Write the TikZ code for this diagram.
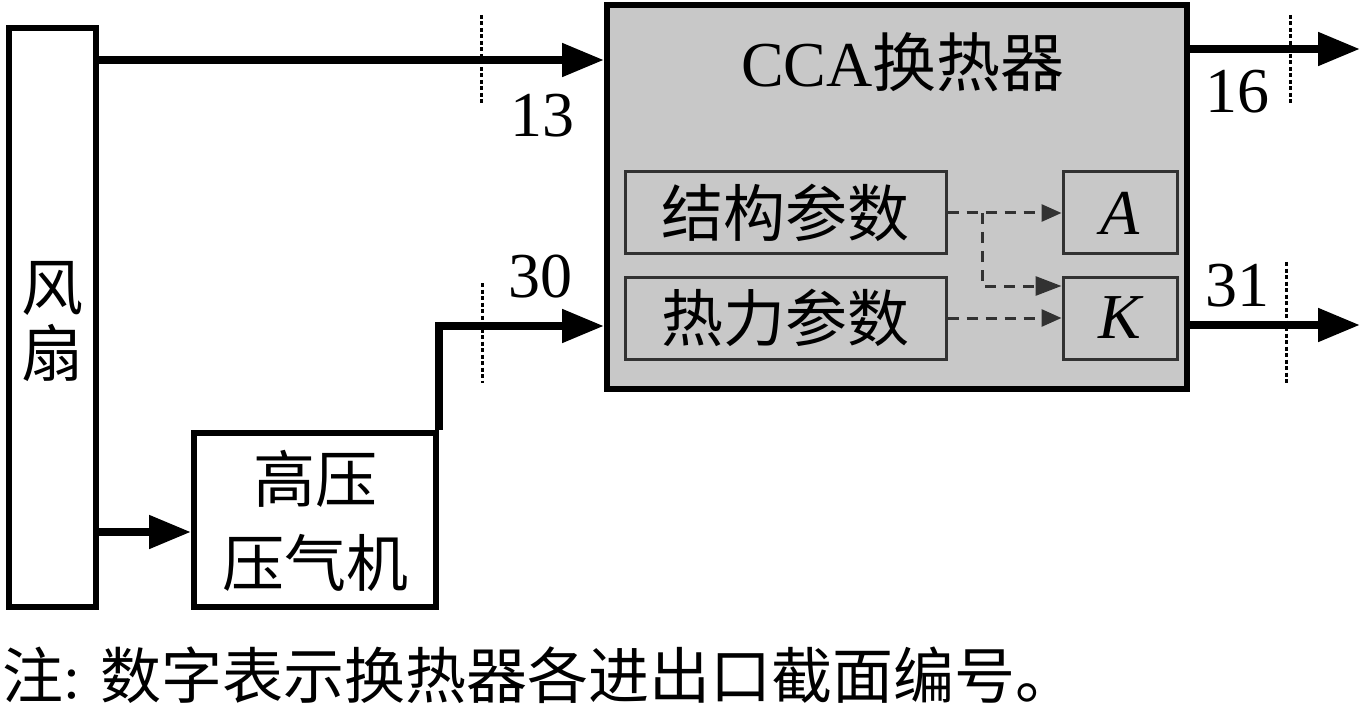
\documentclass[tikz,border=0pt]{standalone}
\usepackage{fontspec}
\setmainfont{Liberation Serif}
\newfontfamily\cjk{Noto Sans CJK SC}
\usetikzlibrary{arrows.meta}
\definecolor{ccagray}{RGB}{200,200,200}
\definecolor{inner}{RGB}{50,50,50}
\begin{document}
\begin{tikzpicture}[x=1pt,y=-1pt,
  blk/.style={draw=black, line width=6pt, fill=white, inner sep=0pt, anchor=center},
  subbox/.style={draw=inner, line width=3pt, fill=ccagray, inner sep=0pt, minimum height=82pt},
  flow/.style={line width=8pt, -{Triangle[length=42pt,width=32pt]}},
  dsh/.style={draw=inner, line width=3pt, dash pattern=on 11pt off 8pt, -{Triangle[length=20pt,width=17pt]}},
  cut/.style={line width=3pt, dash pattern=on 4pt off 2.5pt},
  big/.style={font=\fontsize{62}{66}\selectfont},
  lbl/.style={font=\fontsize{64}{70}\selectfont, inner sep=0pt}]
\useasboundingbox (0,0) rectangle (1363,714);

% main blocks
\node[blk, minimum width=87pt, minimum height=579pt] (fan) at (52.5,317.5) {};
\node[big, align=center, inner sep=0pt] (fantext) at (52.5,322) {\cjk 风\\\cjk 扇};

\node[blk, minimum width=242pt, minimum height=174pt] (comp) at (315,520) {};
\node[font=\fontsize{62}{84}\selectfont, align=center, inner sep=0pt] (comptext) at (315,521) {\cjk 高压\\\cjk 压气机};

\node[blk, fill=ccagray, minimum width=580pt, minimum height=384pt] (cca) at (897,197) {};
\node[lbl] (ccatitle) at (903,62) {CCA{\cjk 换热器}};

% inner boxes
\node[subbox, minimum width=321pt] (s1) at (785.5,213) {\fontsize{62}{66}\selectfont\cjk 结构参数};
\node[subbox, minimum width=321pt] (s2) at (785.5,318) {\fontsize{62}{66}\selectfont\cjk 热力参数};
\node[subbox, minimum width=114pt] (A) at (1120,213) {\fontsize{64}{66}\selectfont\itshape A};
\node[subbox, minimum width=114pt] (K) at (1120,318) {\fontsize{64}{66}\selectfont\itshape K};

% dashed relations
\coordinate (br) at (982,213);
\draw[dsh] (s1.east) -- (A.west);
\draw[dsh, -{Triangle[length=26pt,width=19pt]}] (br) |- ([yshift=32pt]K.west);
\draw[dsh] (s2.east) -- (K.west);

% flows
\coordinate (y13) at (0,60);
\coordinate (y532) at (0,532);
\coordinate (y30) at (0,326);
\coordinate (o16) at (1360,49);
\coordinate (o31) at (1360,325);
\draw[flow] (y13 -| fan.east) -- (y13 -| cca.west);
\draw[flow] (y532 -| fan.east) -- (y532 -| comp.west);
\draw[flow, line join=miter] (comp.north east) -- (comp.north east |- y30) -- (y30 -| cca.west);
\draw[flow] (o16 -| cca.east) -- (o16);
\draw[flow] (o31 -| cca.east) -- (o31);

% section cuts
\draw[cut] (481,15) -- (481,105);
\draw[cut] (482,283) -- (482,383);
\draw[cut] (1290,15) -- (1290,105);
\draw[cut] (1286,262) -- (1286,383);

% section numbers
\node[lbl] (n13) at (542,116) {13};
\node[lbl] (n30) at (540,277) {30};
\node[lbl] (n16) at (1237,92) {16};
\node[lbl] (n31) at (1237,286) {31};

% note
\node[font=\fontsize{61}{66}\selectfont, anchor=west, inner sep=0pt] (note) at (2,675) {{\cjk 注}: {\cjk 数字表示换热器各进出口截面编号。}};
\end{tikzpicture}
\end{document}
